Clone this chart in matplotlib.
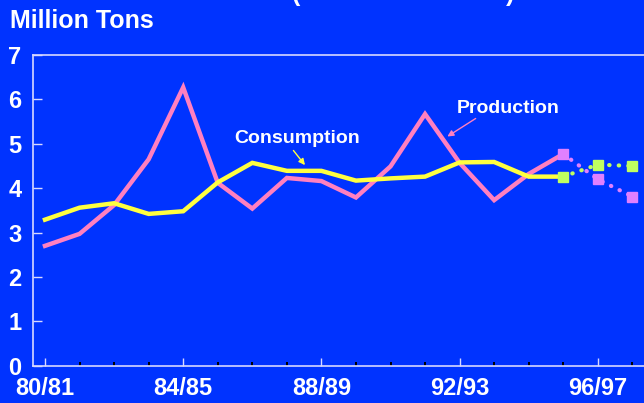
import matplotlib
matplotlib.use("Agg")
import matplotlib.pyplot as plt
from matplotlib.ticker import FixedLocator

plt.rcParams["font.family"] = ["Liberation Sans", "DejaVu Sans"]
plt.rcParams["font.weight"] = "bold"

# --- data ---
seasons = ["80/81", "81/82", "82/83", "83/84", "84/85", "85/86", "86/87", "87/88", "88/89",
           "89/90", "90/91", "91/92", "92/93", "93/94", "94/95", "95/96", "96/97", "97/98"]
production = [2.70, 2.97, 3.62, 4.65, 6.27, 4.12, 3.54, 4.23, 4.16,
              3.79, 4.49, 5.67, 4.57, 3.73, 4.32, 4.77]
production_fc = [4.77, 4.20, 3.81]
consumption = [3.29, 3.56, 3.66, 3.42, 3.48, 4.13, 4.57, 4.39, 4.39,
               4.17, 4.22, 4.26, 4.58, 4.59, 4.26, 4.26]
consumption_fc = [4.26, 4.53, 4.50]
labelled = ["80/81", "84/85", "88/89", "92/93", "96/97"]

BG = "#0033ff"
PINK = "#ff80c0"
YELLOW = "#ffff40"
VIOLET = "#e080ff"
GREEN = "#c0ff60"
LINE = "#d8d8ff"

x = list(range(len(seasons)))
x_hist = x[:len(production)]
x_fc = x[len(production) - 1:]

fig = plt.figure(figsize=(6.44, 4.03), dpi=100, facecolor=BG)
ax = fig.add_axes([32.5 / 644, 37.3 / 403, 1 - 32.5 / 644, 310.7 / 403], facecolor=BG)

ax.plot(x_hist, production, color=PINK, lw=3.2, solid_joinstyle="miter", zorder=3)
ax.plot(x_hist, consumption, color=YELLOW, lw=3.2, solid_joinstyle="miter", zorder=4)
ax.plot(x_fc, production_fc, color=VIOLET, lw=3, linestyle=(0, (0.1, 2.2)),
        dash_capstyle="round", zorder=3)
ax.plot(x_fc, consumption_fc, color=GREEN, lw=3, linestyle=(0, (0.1, 2.2)),
        dash_capstyle="round", zorder=4)
ax.plot(x_fc, production_fc, ls="none", marker="s", ms=7, color=VIOLET, zorder=5)
ax.plot(x_fc, consumption_fc, ls="none", marker="s", ms=7, color=GREEN, zorder=5)

ax.set_xlim((32.5 - 45) / 34.55, (644 - 45) / 34.55)
ax.set_ylim(0, 7)

major = [seasons.index(s) for s in labelled]
ax.xaxis.set_major_locator(FixedLocator(major))
ax.xaxis.set_minor_locator(FixedLocator([i for i in x if i not in major]))
ax.set_xticklabels(labelled)
ax.set_yticks(range(0, 8))

ax.tick_params(axis="x", which="major", direction="in", length=5.8, width=1,
               color=LINE, labelcolor="white", labelsize=17, pad=8)
ax.tick_params(axis="x", which="minor", direction="in", length=3, width=1.4, color="black")
ax.tick_params(axis="y", direction="in", length=6.7, width=1, color=LINE,
               labelcolor="white", labelsize=17, pad=8)

for side in ["left", "bottom", "top"]:
    ax.spines[side].set_color(LINE)
    ax.spines[side].set_linewidth(1.2)
ax.spines["right"].set_visible(False)

fig.text(10 / 644, 1 - 28 / 403, "Million Tons", color="white", fontsize=18,
         fontweight="bold", ha="left", va="baseline")

# bottom of the cut-off title
fig.text(296 / 644, 1 - 1.5 / 403, "(", color="white", fontsize=18, ha="center", va="baseline")
fig.text(510 / 644, 1 - 1.5 / 403, ")", color="white", fontsize=18, ha="center", va="baseline")

# labels with arrows
ax.annotate("", xy=(306.7, 403 - 167.3), xytext=(291.7, 403 - 148.3),
            xycoords="figure pixels", textcoords="figure pixels",
            arrowprops=dict(arrowstyle="-|>", color=YELLOW, lw=1, mutation_scale=9))
ax.annotate("", xy=(445, 403 - 138), xytext=(478, 403 - 117),
            xycoords="figure pixels", textcoords="figure pixels",
            arrowprops=dict(arrowstyle="-|>", color=PINK, lw=1, mutation_scale=9))
fig.text(297.5 / 644, 1 - 143.3 / 403, "Consumption", color="white", fontsize=14,
         fontweight="bold", ha="center", va="baseline")
fig.text(508.4 / 644, 1 - 113.3 / 403, "Production", color="white", fontsize=14,
         fontweight="bold", ha="center", va="baseline")

fig.savefig("out.png", dpi=100, facecolor=BG)
